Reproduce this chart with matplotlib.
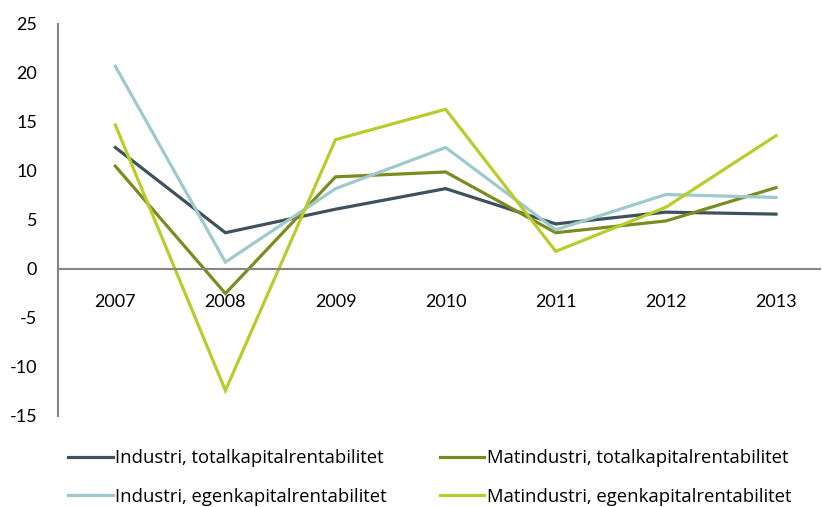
import matplotlib
matplotlib.use("Agg")
import matplotlib.pyplot as plt

plt.rcParams['font.family'] = ['Lato', 'DejaVu Sans']
plt.rcParams['axes.unicode_minus'] = False

years = ['2007', '2008', '2009', '2010', '2011', '2012', '2013']
industri_total = [12.4, 3.7, 6.1, 8.2, 4.6, 5.8, 5.6]
matind_total = [10.5, -2.5, 9.4, 9.9, 3.7, 4.9, 8.3]
industri_egen = [20.7, 0.7, 8.2, 12.4, 4.0, 7.6, 7.3]
matind_egen = [14.7, -12.4, 13.2, 16.3, 1.8, 6.3, 13.6]

labels = ['Industri, totalkapitalrentabilitet', 'Matindustri, totalkapitalrentabilitet',
          'Industri, egenkapitalrentabilitet', 'Matindustri, egenkapitalrentabilitet']
colors = ['#3d525c', '#7b8b22', '#9fcacd', '#b9cc2c']

fig = plt.figure(figsize=(8.22, 5.07), dpi=100)
ax = fig.add_axes([0.0706, 0.1795, 0.927, 0.7732])

x = range(len(years))
series = [industri_total, matind_total, industri_egen, matind_egen]
handles = []
for vals, col, lab in zip(series, colors, labels):
    h, = ax.plot(x, vals, color=col, lw=2.3, label=lab, solid_joinstyle='miter')
    handles.append(h)

ax.set_ylim(-15, 25)
ax.set_xlim(-0.52, 6.4)
ax.set_yticks(range(-15, 30, 5))
ax.set_xticks(list(x))
ax.set_xticklabels(years)

for s in ['top', 'right']:
    ax.spines[s].set_visible(False)
ax.spines['left'].set_color('#868686')
ax.spines['left'].set_linewidth(1.5)
ax.spines['bottom'].set_position(('data', 0))
ax.spines['bottom'].set_color('#868686')
ax.spines['bottom'].set_linewidth(1.5)
ax.tick_params(axis='both', length=0, labelsize=13, colors='black')
ax.tick_params(axis='y', pad=15)
ax.tick_params(axis='x', pad=18)

# legend order: row-wise in two columns
order = [0, 2, 1, 3]
leg = fig.legend([handles[i] for i in order], [labels[i] for i in order],
                 ncol=2, loc='lower left', bbox_to_anchor=(0.063, -0.03),
                 frameon=False, prop={'family': 'Open Sans', 'size': 13.3},
                 handlelength=2.4, handletextpad=0.12,
                 columnspacing=2.9, labelspacing=1.1)

fig.savefig('out.png', dpi=100)
